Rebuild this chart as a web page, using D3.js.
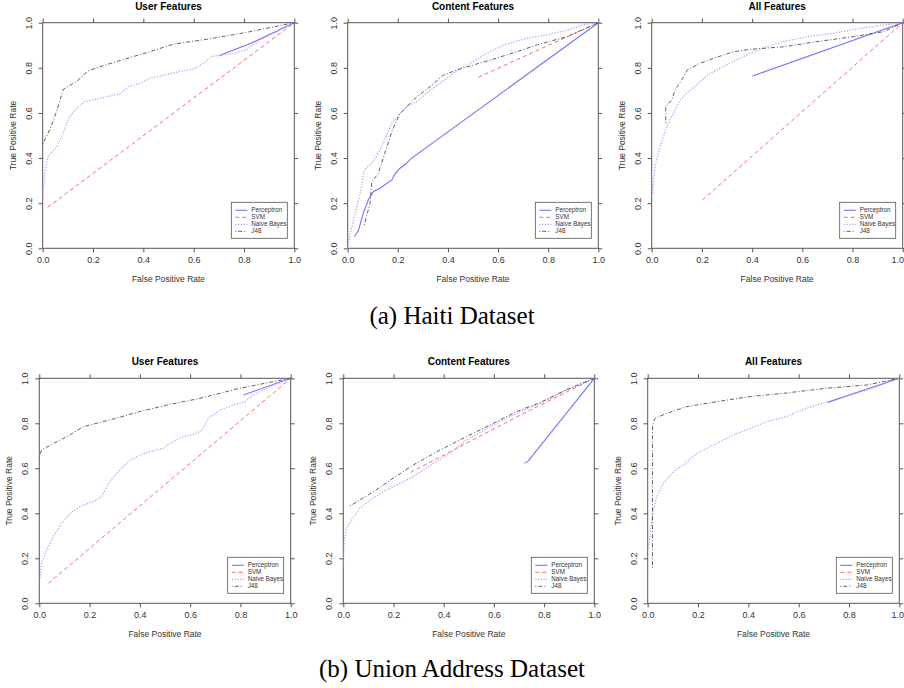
<!DOCTYPE html>
<html>
<head>
<meta charset="utf-8">
<script src="https://cdn.jsdelivr.net/npm/d3@7"></script>
<style>
  body { margin: 0; background: #fff; }
  svg { display: block; }
</style>
</head>
<body>
<div id="chart"></div>
<script>
// ROC points [FPR, TPR]
const haitiUserPerceptron = [[0.70, 0.853], [0.83, 0.91], [1, 1]];
const haitiUserSVM = [[0.02, 0.182], [1, 1]];
const haitiUserNB = [[0, 0.244], [0.01, 0.35], [0.023, 0.41], [0.056, 0.45], [0.082, 0.51], [0.10, 0.57], [0.128, 0.613], [0.168, 0.65], [0.228, 0.665], [0.307, 0.684], [0.34, 0.716], [0.387, 0.731], [0.426, 0.753], [0.52, 0.778], [0.60, 0.795], [0.64, 0.82], [0.67, 0.85], [0.76, 0.864], [0.81, 0.88], [0.864, 0.923], [0.94, 0.967], [1, 1]];
const haitiUserJ48 = [[0, 0.462], [0.03, 0.53], [0.056, 0.61], [0.082, 0.705], [0.135, 0.74], [0.18, 0.786], [0.228, 0.805], [0.32, 0.837], [0.413, 0.867], [0.52, 0.905], [0.65, 0.926], [0.81, 0.957], [1, 1]];

const haitiContentPerceptron = [[0.027, 0.052], [0.043, 0.08], [0.062, 0.155], [0.082, 0.214], [0.102, 0.251], [0.129, 0.266], [0.176, 0.303], [0.189, 0.33], [0.209, 0.355], [0.235, 0.377], [0.249, 0.394], [1, 1]];
const haitiContentSVM = [[0.521, 0.758], [1, 1]];
const haitiContentNB = [[0, 0], [0.01, 0.066], [0.03, 0.155], [0.05, 0.244], [0.066, 0.347], [0.096, 0.377], [0.129, 0.436], [0.176, 0.554], [0.209, 0.598], [0.235, 0.628], [0.275, 0.65], [0.315, 0.687], [0.368, 0.731], [0.422, 0.775], [0.448, 0.798], [0.501, 0.827], [0.555, 0.864], [0.621, 0.901], [0.714, 0.931], [0.794, 0.945], [0.874, 0.967], [0.953, 0.994], [1, 1]];
const haitiContentJ48 = [[0.066, 0.103], [0.089, 0.199], [0.096, 0.295], [0.122, 0.332], [0.176, 0.517], [0.209, 0.598], [0.249, 0.643], [0.269, 0.665], [0.328, 0.716], [0.382, 0.768], [0.435, 0.79], [0.515, 0.817], [0.568, 0.834], [0.674, 0.871], [0.754, 0.901], [0.874, 0.938], [1, 1]];

const haitiAllPerceptron = [[0.402, 0.764], [1, 1]];
const haitiAllSVM = [[0.202, 0.214], [1, 1]];
const haitiAllNB = [[0.004, 0.244], [0.013, 0.362], [0.033, 0.45], [0.06, 0.539], [0.086, 0.598], [0.113, 0.657], [0.146, 0.694], [0.193, 0.739], [0.232, 0.775], [0.286, 0.805], [0.339, 0.835], [0.405, 0.871], [0.458, 0.893], [0.525, 0.916], [0.618, 0.938], [0.724, 0.953], [0.83, 0.975], [0.923, 0.99], [1, 1]];
const haitiAllJ48 = [[0.056, 0.554], [0.056, 0.628], [0.08, 0.657], [0.093, 0.702], [0.12, 0.746], [0.142, 0.79], [0.193, 0.82], [0.246, 0.842], [0.325, 0.871], [0.392, 0.882], [0.525, 0.893], [0.657, 0.916], [0.803, 0.938], [0.923, 0.96], [1, 1]];

const unionUserPerceptron = [[0.812, 0.926], [1, 1]];
const unionUserSVM = [[0.036, 0.089], [1, 1]];
const unionUserNB = [[0.003, 0.111], [0.009, 0.178], [0.029, 0.237], [0.056, 0.296], [0.089, 0.356], [0.129, 0.407], [0.175, 0.437], [0.215, 0.452], [0.248, 0.474], [0.268, 0.519], [0.301, 0.57], [0.354, 0.63], [0.40, 0.659], [0.44, 0.674], [0.493, 0.689], [0.533, 0.719], [0.573, 0.741], [0.613, 0.751], [0.646, 0.767], [0.672, 0.822], [0.719, 0.859], [0.772, 0.881], [0.818, 0.896], [0.851, 0.926], [0.905, 0.956], [1, 1]];
const unionUserJ48 = [[0, 0.652], [0.009, 0.681], [0.056, 0.711], [0.109, 0.74], [0.175, 0.785], [0.281, 0.815], [0.40, 0.852], [0.507, 0.881], [0.639, 0.911], [0.798, 0.956], [1, 1]];

const unionContentPerceptron = [[0.721, 0.622], [0.737, 0.633], [1, 1]];
const unionContentSVM = [[0.268, 0.582], [0.60, 0.775], [0.72, 0.845], [1, 1]];
const unionContentNB = [[0, 0.163], [0.004, 0.281], [0.013, 0.333], [0.033, 0.37], [0.066, 0.422], [0.106, 0.459], [0.159, 0.496], [0.212, 0.526], [0.279, 0.563], [0.359, 0.622], [0.425, 0.667], [0.491, 0.726], [0.598, 0.793], [0.704, 0.852], [0.784, 0.889], [0.89, 0.948], [1, 1]];
const unionContentJ48 = [[0.027, 0.433], [0.066, 0.459], [0.12, 0.496], [0.199, 0.556], [0.279, 0.615], [0.385, 0.681], [0.491, 0.741], [0.598, 0.80], [0.704, 0.859], [0.784, 0.892], [0.89, 0.95], [1, 1]];

const unionAllPerceptron = [[0.715, 0.893], [1, 1]];
const unionAllSVM = [[0.952, 0.985], [1, 1]];
const unionAllNB = [[0.003, 0.244], [0.012, 0.326], [0.023, 0.415], [0.036, 0.474], [0.062, 0.533], [0.102, 0.585], [0.142, 0.615], [0.195, 0.667], [0.274, 0.711], [0.34, 0.748], [0.407, 0.778], [0.473, 0.807], [0.552, 0.83], [0.632, 0.867], [0.738, 0.904], [0.87, 0.948], [1, 1]];
const unionAllJ48 = [[0.019, 0.156], [0.019, 0.793], [0.029, 0.822], [0.075, 0.844], [0.155, 0.874], [0.274, 0.896], [0.407, 0.919], [0.539, 0.933], [0.711, 0.956], [0.87, 0.97], [1, 1]];

const seriesNames = ["Perceptron", "SVM", "Naive Bayes", "J48"];
const tickValues = [0, 0.2, 0.4, 0.6, 0.8, 1.0];
const panelTitles = ["User Features", "Content Features", "All Features"];
const captions = ["(a) Haiti Dataset", "(b) Union Address Dataset"];

const styles = [
  { color: "#7373ff", dash: null, width: 1.1 },
  { color: "#ff6a6a", dash: "4,3", width: 1 },
  { color: "#bb92ff", dash: "1.2,1.6", width: 1.2 },
  { color: "#4d4d4d", dash: "1,2,4,2", width: 0.9 }
];

const panels = [
  { title: panelTitles[0], x0: 42.7, x1: 294.3, y0: 22.7, y1: 248.3, data: [haitiUserPerceptron, haitiUserSVM, haitiUserNB, haitiUserJ48] },
  { title: panelTitles[1], x0: 347.7, x1: 598.3, y0: 22.7, y1: 248.3, data: [haitiContentPerceptron, haitiContentSVM, haitiContentNB, haitiContentJ48] },
  { title: panelTitles[2], x0: 651.7, x1: 902.7, y0: 22.7, y1: 248.3, data: [haitiAllPerceptron, haitiAllSVM, haitiAllNB, haitiAllJ48] },
  { title: panelTitles[0], x0: 39.3, x1: 290.7, y0: 378.3, y1: 603.3, data: [unionUserPerceptron, unionUserSVM, unionUserNB, unionUserJ48] },
  { title: panelTitles[1], x0: 343.3, x1: 594.3, y0: 378.3, y1: 603.3, data: [unionContentPerceptron, unionContentSVM, unionContentNB, unionContentJ48] },
  { title: panelTitles[2], x0: 647.7, x1: 899.3, y0: 378.3, y1: 603.3, data: [unionAllPerceptron, unionAllSVM, unionAllNB, unionAllJ48] }
];

const W = 904, H = 688;
const svg = d3.select("#chart").append("svg")
  .attr("width", W)
  .attr("height", H)
  .style("font-family", "'Liberation Sans', Arial, Helvetica, sans-serif");

const fmt = d3.format(".1f");

panels.forEach(p => {
  const x = d3.scaleLinear().domain([0, 1]).range([p.x0, p.x1]);
  const y = d3.scaleLinear().domain([0, 1]).range([p.y1, p.y0]);
  const g = svg.append("g");

  // ticks on four sides, labels on bottom and left only
  const axisStyle = sel => {
    sel.select(".domain").remove();
    sel.selectAll(".tick line").attr("stroke", "#555");
    sel.selectAll(".tick text").attr("fill", "#333").style("font-size", "9px");
  };
  const bx = g.append("g").attr("transform", `translate(0,${p.y1})`)
    .call(d3.axisBottom(x).tickValues(tickValues).tickFormat(fmt).tickSize(4).tickPadding(4))
    .call(axisStyle);
  // keep the last label inside the page at the right edge
  if (p.x1 + 7 > W) {
    bx.selectAll(".tick text").filter(d => d === 1)
      .attr("text-anchor", "end").attr("x", W - 1 - p.x1 + 0.5);
  }
  g.append("g").attr("transform", `translate(0,${p.y0})`)
    .call(d3.axisTop(x).tickValues(tickValues).tickFormat("").tickSize(4))
    .call(axisStyle);
  g.append("g").attr("transform", `translate(${p.x1},0)`)
    .call(d3.axisRight(y).tickValues(tickValues).tickFormat("").tickSize(4))
    .call(axisStyle);
  const ly = g.append("g").attr("transform", `translate(${p.x0},0)`)
    .call(d3.axisLeft(y).tickValues(tickValues).tickFormat(fmt).tickSize(4))
    .call(axisStyle);
  ly.selectAll(".tick text")
    .attr("x", 0).attr("dy", null)
    .attr("text-anchor", "middle")
    .attr("transform", "translate(-11,0) rotate(-90)");

  g.append("rect")
    .attr("x", p.x0).attr("y", p.y0)
    .attr("width", p.x1 - p.x0).attr("height", p.y1 - p.y0)
    .attr("fill", "none").attr("stroke", "#555").attr("stroke-width", 1);

  const line = d3.line().x(d => x(d[0])).y(d => y(d[1]));
  p.data.forEach((pts, i) => {
    g.append("path")
      .datum(pts)
      .attr("d", line)
      .attr("fill", "none")
      .attr("stroke", styles[i].color)
      .attr("stroke-width", styles[i].width)
      .attr("stroke-dasharray", styles[i].dash);
  });

  const cx = (p.x0 + p.x1) / 2;
  g.append("text")
    .attr("x", cx).attr("y", p.y0 - 13)
    .attr("text-anchor", "middle")
    .style("font-size", "10px").style("font-weight", "bold")
    .text(p.title);
  g.append("text")
    .attr("x", cx).attr("y", p.y1 + 34)
    .attr("text-anchor", "middle")
    .attr("fill", "#333")
    .style("font-size", "8.5px")
    .text("False Positive Rate");
  g.append("text")
    .attr("transform", `translate(${p.x0 - 27},${(p.y0 + p.y1) / 2}) rotate(-90)`)
    .attr("text-anchor", "middle")
    .attr("fill", "#333")
    .style("font-size", "8.5px")
    .text("True Positive Rate");

  // legend
  const lw = 56, lh = 36;
  const lx = p.x1 - 7 - lw, lyTop = p.y1 - 10 - lh;
  const leg = g.append("g").attr("transform", `translate(${lx},${lyTop})`);
  leg.append("rect").attr("width", lw).attr("height", lh)
    .attr("fill", "#fff").attr("stroke", "#555").attr("stroke-width", 0.8);
  seriesNames.forEach((name, i) => {
    const yy = 8 + i * 7;
    leg.append("line")
      .attr("x1", 4).attr("x2", 16).attr("y1", yy).attr("y2", yy)
      .attr("stroke", styles[i].color)
      .attr("stroke-width", styles[i].width)
      .attr("stroke-dasharray", styles[i].dash);
    leg.append("text")
      .attr("x", 20).attr("y", yy + 2.2)
      .attr("fill", "#333")
      .style("font-size", "6.3px")
      .text(name);
  });
});

svg.selectAll("text.caption")
  .data(captions)
  .enter().append("text")
  .attr("class", "caption")
  .attr("x", 452)
  .attr("y", (d, i) => i === 0 ? 324 : 677)
  .attr("text-anchor", "middle")
  .style("font-family", "'Liberation Serif', 'DejaVu Serif', serif")
  .style("font-size", "25px")
  .text(d => d);
</script>
</body>
</html>
